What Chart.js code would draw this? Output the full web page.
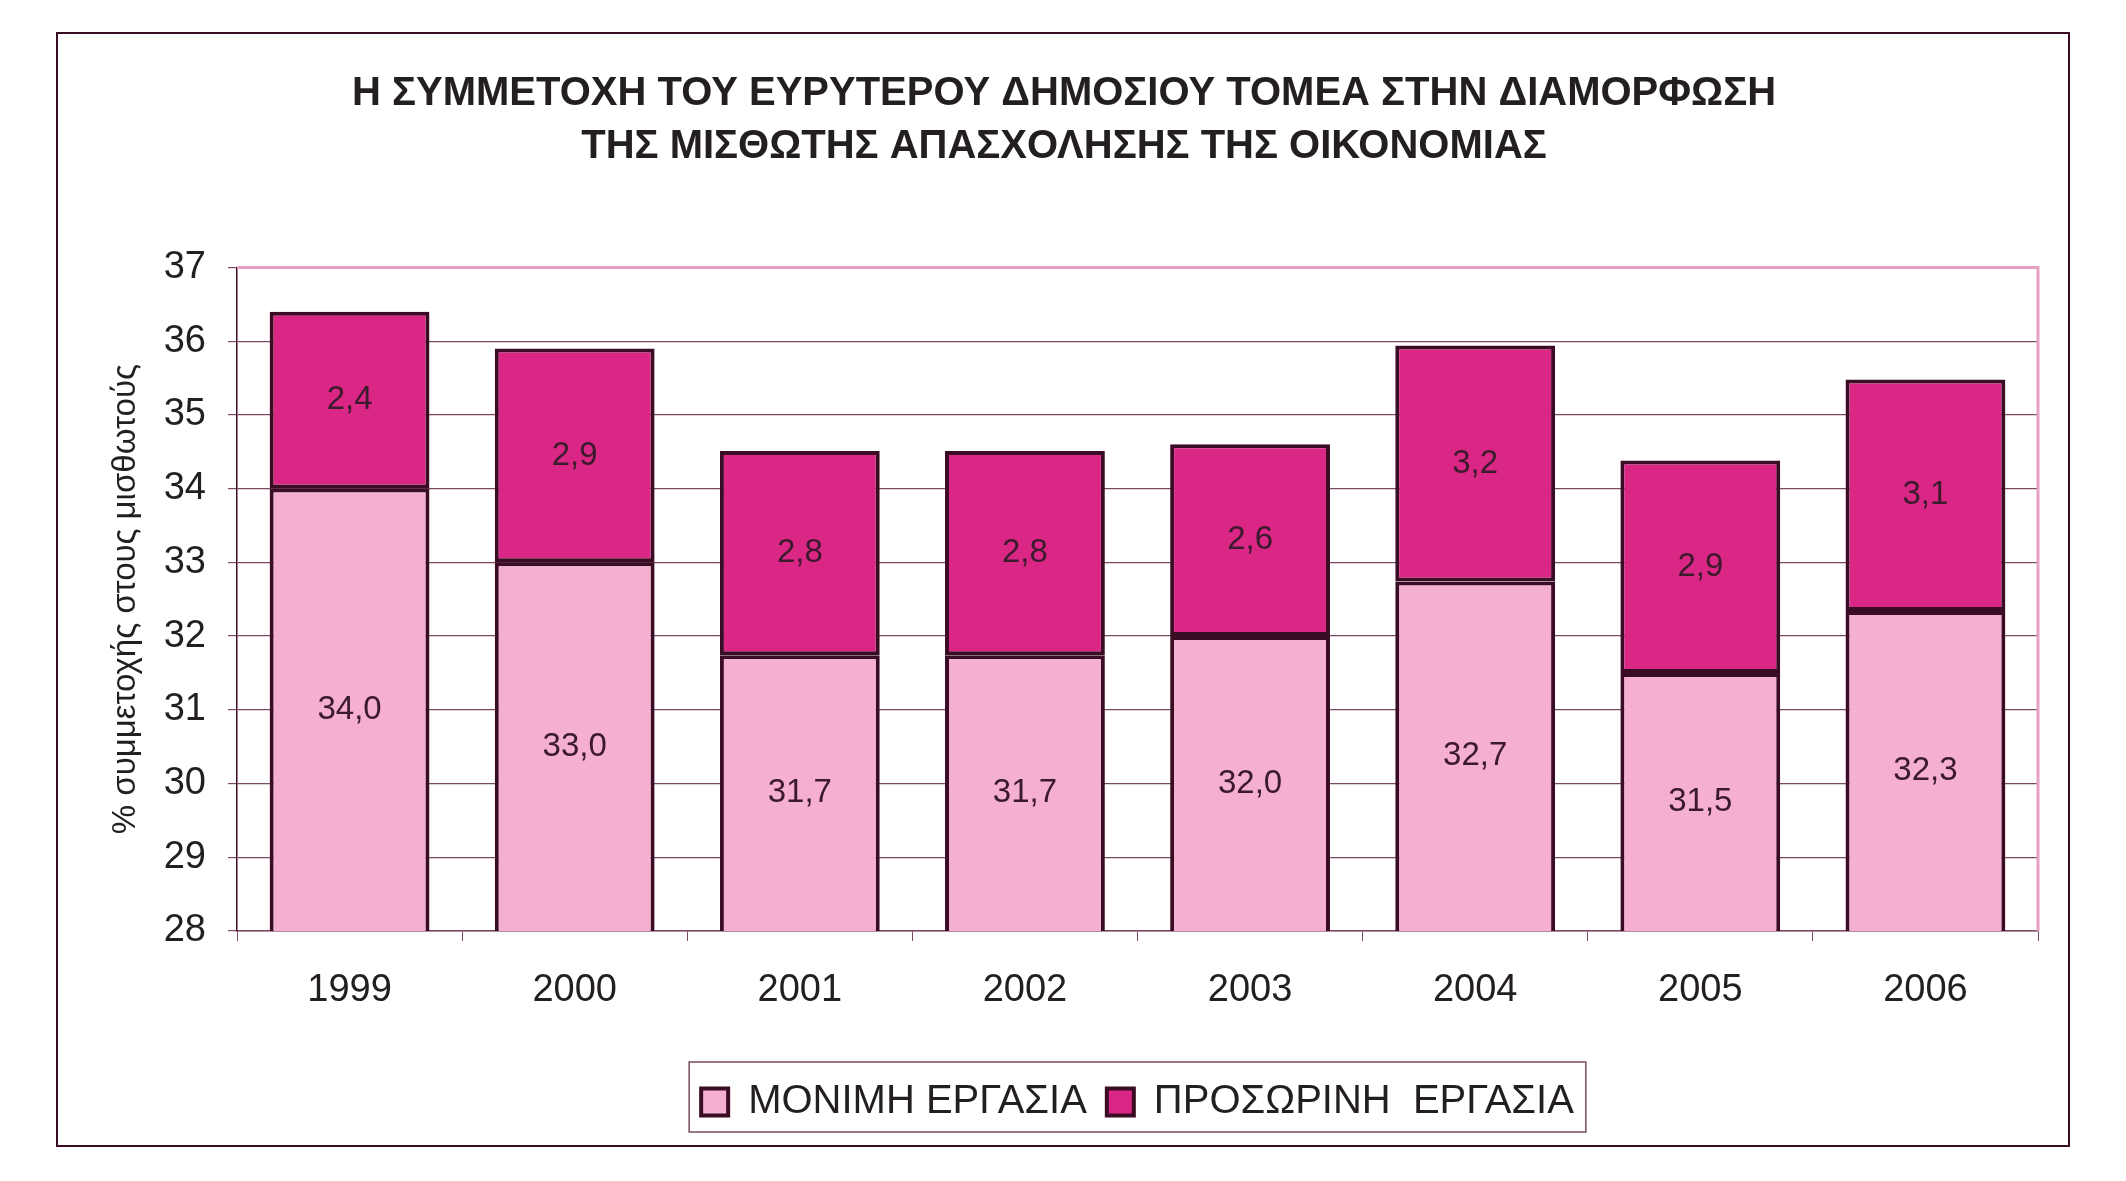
<!DOCTYPE html>
<html lang="el">
<head>
<meta charset="UTF-8">
<title>Συμμετοχή του ευρύτερου δημόσιου τομέα</title>
<style>body{margin:0;background:#fff}</style>
</head>
<body>
<canvas id="chart" width="2126" height="1181"></canvas>
<script src="https://cdn.jsdelivr.net/npm/chart.js"></script>
<script>
// data
const years = ['1999', '2000', '2001', '2002', '2003', '2004', '2005', '2006'];
const monimi = [34.0, 33.0, 31.74, 31.74, 32.0, 32.74, 31.5, 32.34];
const prosorini = [2.4, 2.9, 2.77, 2.77, 2.6, 3.2, 2.88, 3.14];
const yMin = 28, yMax = 37, yStep = 1;

const dark = '#3b0d24';
const grid = '#7a4a63';
const pink = '#e8a0c2';
const txt = '#231f20';

const fmt = v => v.toFixed(1).replace('.', ',');

const extras = {
  id: 'extras',
  beforeDraw(chart) {
    const c = chart.ctx;
    c.save();
    c.fillStyle = '#fff';
    c.fillRect(0, 0, chart.width, chart.height);
    c.restore();
  },
  afterLayout(chart) {
    // legend centred under the plot area
    chart.legend.left = chart.chartArea.left;
    chart.legend.right = chart.chartArea.right;
  },
  afterDatasetsDraw(chart) {
    const c = chart.ctx, a = chart.chartArea;
    c.save();
    c.strokeStyle = pink;
    c.lineWidth = 3;
    c.beginPath();
    c.moveTo(a.left, a.top);
    c.lineTo(a.right, a.top);
    c.lineTo(a.right, a.bottom);
    c.stroke();
    // value labels in the middle of each segment
    c.font = '33px "Liberation Sans", Arial, sans-serif';
    c.fillStyle = '#3a1a2c';
    c.textAlign = 'center';
    c.textBaseline = 'middle';
    chart.data.datasets.forEach((ds, i) => {
      chart.getDatasetMeta(i).data.forEach((bar, j) => {
        const base = Math.min(bar.base, a.bottom);
        c.fillText(fmt(ds.data[j]), bar.x, (bar.y + base) / 2);
      });
    });
    c.restore();
  },
  afterDraw(chart) {
    const c = chart.ctx;
    c.save();
    c.strokeStyle = dark;
    c.lineWidth = 2;
    c.strokeRect(57, 33, 2012, 1113);
    const hb = chart.legend.legendHitBoxes;
    const l = Math.min(...hb.map(h => h.left)) - 12;
    const r = Math.max(...hb.map(h => h.left + h.width)) + 12;
    c.strokeStyle = grid;
    c.lineWidth = 1.5;
    c.strokeRect(l, chart.legend.top, r - l, chart.legend.height);
    c.restore();
  }
};

new Chart(document.getElementById('chart'), {
  type: 'bar',
  data: {
    labels: years,
    datasets: [
      { label: 'ΜΟΝΙΜΗ ΕΡΓΑΣΙΑ', data: monimi, backgroundColor: '#f5afcf',
        borderColor: dark, borderWidth: 4, borderSkipped: false },
      { label: 'ΠΡΟΣΩΡΙΝΗ  ΕΡΓΑΣΙΑ', data: prosorini, backgroundColor: '#da2785',
        borderColor: dark, borderWidth: 4, borderSkipped: false }
    ]
  },
  options: {
    responsive: false,
    animation: false,
    layout: { padding: { left: 90, right: 88, top: 0, bottom: 49 } },
    datasets: { bar: { barPercentage: 0.71, categoryPercentage: 1 } },
    plugins: {
      tooltip: { enabled: false },
      title: {
        display: true,
        text: ['Η ΣΥΜΜΕΤΟΧΗ ΤΟΥ ΕΥΡΥΤΕΡΟΥ ΔΗΜΟΣΙΟΥ ΤΟΜΕΑ ΣΤΗΝ ΔΙΑΜΟΡΦΩΣΗ',
               'ΤΗΣ ΜΙΣΘΩΤΗΣ ΑΠΑΣΧΟΛΗΣΗΣ ΤΗΣ ΟΙΚΟΝΟΜΙΑΣ'],
        color: txt,
        font: { family: '"Liberation Sans", Arial, sans-serif', size: 40, weight: 'bold', lineHeight: 1.33 },
        padding: { top: 67, bottom: 94 }
      },
      legend: {
        position: 'bottom',
        labels: {
          color: txt,
          font: { family: '"Liberation Sans", Arial, sans-serif', size: 40 },
          boxWidth: 27, boxHeight: 27, padding: 20
        }
      }
    },
    scales: {
      x: {
        stacked: true,
        grid: { offset: true, drawOnChartArea: false, tickLength: 10, color: grid },
        border: { color: grid, width: 1.5 },
        ticks: { color: txt, padding: 27, font: { family: '"Liberation Sans", Arial, sans-serif', size: 38 } },
        afterFit: s => { s.height = 131; }
      },
      y: {
        stacked: true,
        min: yMin, max: yMax,
        grid: { color: grid, tickLength: 9, lineWidth: 1.2 },
        border: { color: dark, width: 1.5 },
        ticks: { stepSize: yStep, color: txt, padding: 22, font: { family: '"Liberation Sans", Arial, sans-serif', size: 38 } },
        title: {
          display: true,
          text: '% συμμετοχής στους μισθωτούς',
          color: txt,
          font: { family: '"Liberation Sans", Arial, sans-serif', size: 33 },
          padding: { top: 16, bottom: 0 }
        },
        afterFit: s => { s.width = 147; }
      }
    }
  },
  plugins: [extras]
});
</script>
</body>
</html>
